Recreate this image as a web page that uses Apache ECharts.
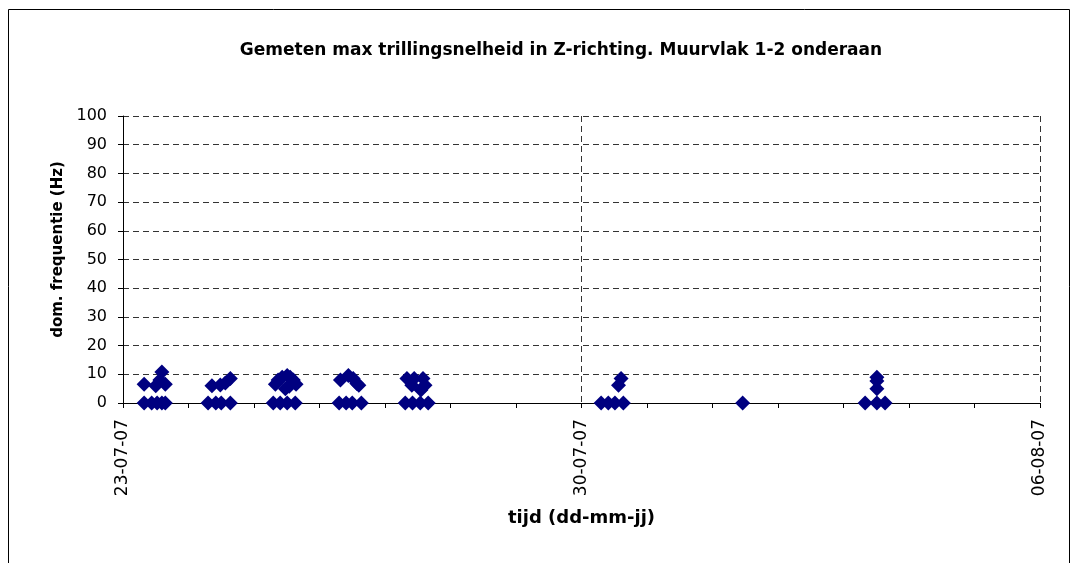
<!DOCTYPE html>
<html>
<head>
<meta charset="utf-8">
<script src="https://cdn.jsdelivr.net/npm/echarts@6/dist/echarts.min.js"></script>
<style>
html,body{margin:0;padding:0;background:#fff;}
#chart{width:1077px;height:563px;}
</style>
</head>
<body>
<div id="chart"></div>
<script>
const title = "Gemeten max trillingsnelheid in Z-richting. Muurvlak 1-2 onderaan";
const xAxisName = "tijd (dd-mm-jj)";
const yAxisName = "dom. frequentie (Hz)";
const startDate = "2007-07-23T00:00:00Z";
const endDate = "2007-08-06T00:00:00Z";
const yTicks = [0,10,20,30,40,50,60,70,80,90,100];

const times = [
  "2007-07-23T07:45","2007-07-23T07:45","2007-07-23T10:30","2007-07-23T12:00","2007-07-23T12:30","2007-07-23T13:30","2007-07-23T14:15","2007-07-23T14:15","2007-07-23T15:30","2007-07-23T15:30",
  "2007-07-24T07:10","2007-07-24T08:35","2007-07-24T10:00","2007-07-24T11:40","2007-07-24T12:00","2007-07-24T13:30","2007-07-24T15:20","2007-07-24T15:20",
  "2007-07-25T07:03","2007-07-25T07:50","2007-07-25T08:50","2007-07-25T09:36","2007-07-25T10:20","2007-07-25T11:30","2007-07-25T12:10","2007-07-25T12:10","2007-07-25T12:55","2007-07-25T13:15","2007-07-25T14:25","2007-07-25T15:07","2007-07-25T15:25",
  "2007-07-26T07:12","2007-07-26T07:40","2007-07-26T09:45","2007-07-26T10:35","2007-07-26T12:00","2007-07-26T12:20","2007-07-26T13:40","2007-07-26T14:25","2007-07-26T15:20",
  "2007-07-27T07:25","2007-07-27T08:02","2007-07-27T09:50","2007-07-27T10:05","2007-07-27T10:42","2007-07-27T12:55","2007-07-27T13:10","2007-07-27T13:55","2007-07-27T14:40","2007-07-27T15:50",
  "2007-07-30T07:12","2007-07-30T09:50","2007-07-30T12:15","2007-07-30T13:34","2007-07-30T14:30","2007-07-30T15:20",
  "2007-08-01T11:03",
  "2007-08-03T07:55","2007-08-03T12:14","2007-08-03T12:14","2007-08-03T12:14","2007-08-03T12:14","2007-08-03T15:14"
];
const values = [
  0,6.5,0,6,0,8,10.8,0,6.5,0,
  0,6,0,6.3,0,7,8.5,0,
  0,6.5,8,0,9,5,9.6,0,5.8,9,8,0,6.5,
  0,8,0,9.6,0,8.5,6.8,6.2,0,
  0,8.5,6.2,0,8.5,0,4.5,8.5,6.2,0,
  0,0,0,6.2,8.5,0,
  0,
  0,9,7.7,5,0,0
];

const DAY = 86400000;
const base = Date.parse(startDate);
const span = (Date.parse(endDate) - base) / DAY;
const pts = times.map((t, i) => [(Date.parse(t + ":00Z") - base) / DAY, values[i]]);
function fmtDay(v) {
  const d = new Date(base + v * DAY);
  const p = n => String(n).padStart(2, "0");
  return p(d.getUTCDate()) + "-" + p(d.getUTCMonth() + 1) + "-" + p(d.getUTCFullYear() % 100);
}

const chart = echarts.init(document.getElementById('chart'), null, {renderer: 'canvas'});
const font = "'DejaVu Sans', Arial, sans-serif";
chart.setOption({
  backgroundColor: '#fff',
  animation: false,
  textStyle: {fontFamily: font},
  title: {
    text: title,
    left: 556, top: 37, textAlign: 'center',
    textStyle: {fontFamily: font, fontSize: 17, fontWeight: 'bold', color: '#000'}
  },
  graphic: [{
    type: 'rect', shape: {x: 8.5, y: 9.5, width: 1061, height: 600},
    style: {fill: 'none', stroke: '#000', lineWidth: 1}, z: -1, silent: true
  }],
  grid: {left: 123, right: 37, top: 116, bottom: 160, containLabel: false},
  xAxis: {
    type: 'value', min: 0, max: span, interval: 7,
    name: xAxisName, nameLocation: 'middle', nameGap: 106, nameMoveOverlap: false,
    nameTextStyle: {fontFamily: font, fontSize: 18, fontWeight: 'bold', color: '#000'},
    axisLine: {show: true, onZero: false, lineStyle: {color: '#000', width: 1}},
    axisTick: {show: true, length: 5, inside: false, lineStyle: {color: '#000'}},
    minorTick: {show: true, splitNumber: 7, length: 5, lineStyle: {color: '#000'}},
    axisLabel: {rotate: 90, fontSize: 17, color: '#000', margin: 16, formatter: v => fmtDay(v)},
    splitLine: {show: true, lineStyle: {color: '#000', type: [6, 4], width: 1, opacity: 0.8}}
  },
  yAxis: {
    type: 'value', min: yTicks[0], max: yTicks[yTicks.length - 1], interval: yTicks[1] - yTicks[0],
    name: yAxisName, nameLocation: 'middle', nameGap: 57, nameRotate: 90, nameMoveOverlap: false,
    nameTextStyle: {fontFamily: font, fontSize: 15, fontWeight: 'bold', color: '#000', padding: [0, 0, 0, 20]},
    axisLine: {show: true, lineStyle: {color: '#000', width: 1}},
    axisTick: {show: true, length: 5, inside: false, lineStyle: {color: '#000'}},
    axisLabel: {fontSize: 16, color: '#000', margin: 16},
    splitLine: {show: true, lineStyle: {color: '#000', type: [6, 4], width: 1, opacity: 0.8}}
  },
  series: [{
    type: 'scatter', data: pts, symbol: 'diamond', symbolSize: 15,
    itemStyle: {color: '#000080', opacity: 1},
    z: 5
  }]
});
</script>
</body>
</html>
